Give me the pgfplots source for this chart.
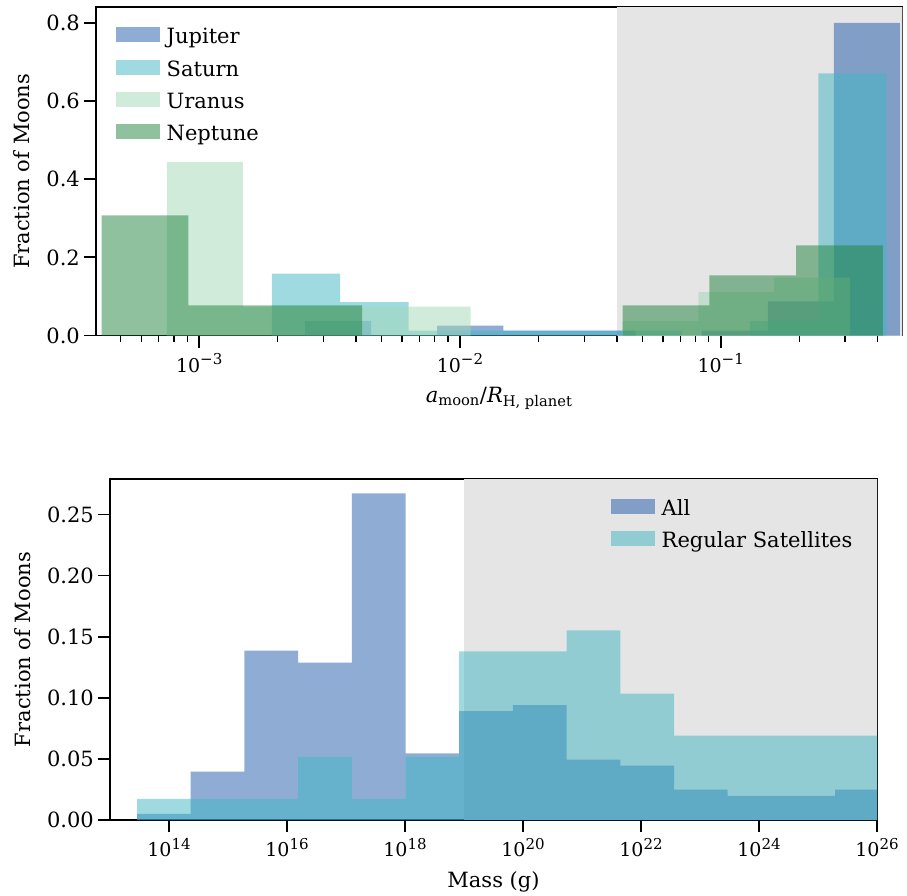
\documentclass[border=0pt]{standalone}
\usepackage[no-math]{fontspec}
\setmainfont{DejaVu Serif}
\usepackage{pgfplots}
\pgfplotsset{compat=1.18}
\definecolor{cjup}{HTML}{1F5BA9}
\definecolor{csat}{HTML}{3FB5C3}
\definecolor{cura}{HTML}{A3D7B7}
\definecolor{cnep}{HTML}{1F833D}
\definecolor{spangray}{HTML}{E5E5E5}
\newcommand{\fs}{\fontsize{21}{25}\selectfont}
\newcommand{\fx}{\fontsize{19}{23}\selectfont}
\newcommand{\tp}[1]{10\raisebox{7.4pt}{\fontsize{15}{15}\selectfont #1}}
\pgfplotsset{
  hist/.style={ybar interval, draw=none, fill=#1, fill opacity=0.5,
    legend image code/.code={\fill[##1] (0pt,-4pt) rectangle (44pt,11pt);}},
  base/.style={scale only axis, tick align=outside, tick pos=left,
    major tick length=12pt, minor tick length=6.5pt,
    major tick style={black, line width=1.8pt},
    minor tick style={black, line width=1.4pt},
    axis line style={line width=1.8pt},
    xticklabel style={font=\fx, inner sep=0pt, anchor=north},
    yticklabel style={font=\fs, inner sep=0pt, anchor=east},
    xticklabel shift=6pt, yticklabel shift=4pt,
    label style={font=\fs},
    legend style={font=\fs, draw=none, fill=none, inner sep=0pt, outer sep=0pt,
      column sep=6.7pt, row sep=10.7pt, nodes={inner sep=0pt, text height=16pt, text depth=5pt}},
    legend cell align=left},
}
\begin{document}
\begin{tikzpicture}
\path[use as bounding box] (0,0) rectangle (907pt,-895pt);
% ---------------- top panel ----------------
\begin{axis}[base, at={(96pt,-335.5pt)}, anchor=south west,
  width=806.3pt, height=328.2pt,
  xmode=log, xmin=4.02e-4, xmax=0.497, ymin=0, ymax=0.84,
  xtick={1e-3,1e-2,1e-1},
  xticklabels={\tp{−3},\tp{−2},\tp{−1}},
  minor xtick={5e-4,6e-4,7e-4,8e-4,9e-4,2e-3,3e-3,4e-3,5e-3,6e-3,7e-3,8e-3,9e-3,
    2e-2,3e-2,4e-2,5e-2,6e-2,7e-2,8e-2,9e-2,2e-1,3e-1,4e-1},
  ytick={0,0.2,0.4,0.6,0.8},
  yticklabel style={/pgf/number format/.cd, fixed, fixed zerofill, precision=1, assume math mode=true},
  xlabel={\textit{a}\textsubscript{moon}/\textit{R}\textsubscript{H, planet}},
  ylabel={Fraction of Moons},
  xlabel style={at={(axis description cs:0.5,0)}, anchor=base, yshift=-67pt},
  ylabel style={at={([xshift=-66pt]axis description cs:0,0.5)}, anchor=base},
  legend style={at={(axis description cs:0,1)}, anchor=north west, xshift=20pt, yshift=-20pt},
]
\addplot[fill=spangray, draw=none, forget plot] coordinates {(0.04,0) (0.04,0.84) (1,0.84) (1,0)};
\addplot[hist=cjup] coordinates {
 (2.543e-3,0.0375) (4.560e-3,0) (8.177e-3,0.025) (1.466e-2,0.0125) (2.628e-2,0.0125)
 (4.712e-2,0) (8.449e-2,0.0125) (0.1515,0.0875) (0.2716,0.8) (0.4869,0.8)};
\addlegendentry{Jupiter}
\addplot[hist=csat] coordinates {
 (1.900e-3,0.1585) (3.474e-3,0.0854) (6.351e-3,0.0122) (1.161e-2,0.0122) (2.122e-2,0.0122)
 (3.879e-2,0.0122) (7.092e-2,0) (0.1297,0.0366) (0.2370,0.6707) (0.4332,0.6707)};
\addlegendentry{Saturn}
\addplot[hist=cura] coordinates {
 (7.516e-4,0.4444) (1.470e-3,0.0741) (2.873e-3,0.0741) (5.617e-3,0.0741) (1.098e-2,0)
 (2.147e-2,0) (4.197e-2,0.0370) (8.206e-2,0.1111) (0.1604,0.1481) (0.3136,0.1481)};
\addlegendentry{Uranus}
\addplot[hist=cnep] coordinates {
 (4.222e-4,0.3077) (9.09e-4,0.0769) (1.957e-3,0.0769) (4.212e-3,0) (9.066e-3,0)
 (1.952e-2,0) (4.201e-2,0.0769) (9.04e-2,0.1538) (0.1947,0.2308) (0.4190,0.2308)};
\addlegendentry{Neptune}
\end{axis}
% ---------------- bottom panel ----------------
\begin{axis}[base, at={(110pt,-820pt)}, anchor=south west,
  width=767pt, height=341pt,
  xmode=log, xmin=1e13, xmax=1e26, ymin=0, ymax=0.279,
  xtick={1e14,1e16,1e18,1e20,1e22,1e24,1e26},
  xticklabels={\tp{14},\tp{16},\tp{18},\tp{20},\tp{22},\tp{24},\tp{26}},
  minor xtick={},
  ytick={0,0.05,0.10,0.15,0.20,0.25},
  yticklabel style={/pgf/number format/.cd, fixed, fixed zerofill, precision=2, assume math mode=true},
  xlabel={Mass (g)},
  ylabel={Fraction of Moons},
  xlabel style={at={(axis description cs:0.5,0)}, anchor=base, yshift=-67pt},
  ylabel style={at={([xshift=-80pt]axis description cs:0,0.5)}, anchor=base},
  legend style={at={(axis description cs:0.6532,1)}, anchor=north west, yshift=-19.7pt},
]
\addplot[fill=spangray, draw=none, forget plot] coordinates {(1e19,0) (1e19,0.279) (1e27,0.279) (1e27,0)};
\addplot[hist=cjup] coordinates {
 (2.868e13,0.00495) (2.332e14,0.0396) (1.897e15,0.1386) (1.542e16,0.1287) (1.254e17,0.2673)
 (1.020e18,0.0545) (8.294e18,0.0891) (6.745e19,0.0941) (5.486e20,0.0495) (4.461e21,0.0446)
 (3.627e22,0.0248) (2.950e23,0.0198) (2.399e24,0.0198) (1.951e25,0.0248) (1.586e26,0.0248)};
\addlegendentry{All}
\addplot[hist=csat] coordinates {
 (2.868e13,0.0172) (2.332e14,0.0172) (1.897e15,0.0172) (1.542e16,0.0517) (1.254e17,0.0172)
 (1.020e18,0.0517) (8.294e18,0.1379) (6.745e19,0.1379) (5.486e20,0.1552) (4.461e21,0.1034)
 (3.627e22,0.0690) (2.950e23,0.0690) (2.399e24,0.0690) (1.951e25,0.0690) (1.586e26,0.0690)};
\addlegendentry{Regular Satellites}
\end{axis}
\end{tikzpicture}
\end{document}
